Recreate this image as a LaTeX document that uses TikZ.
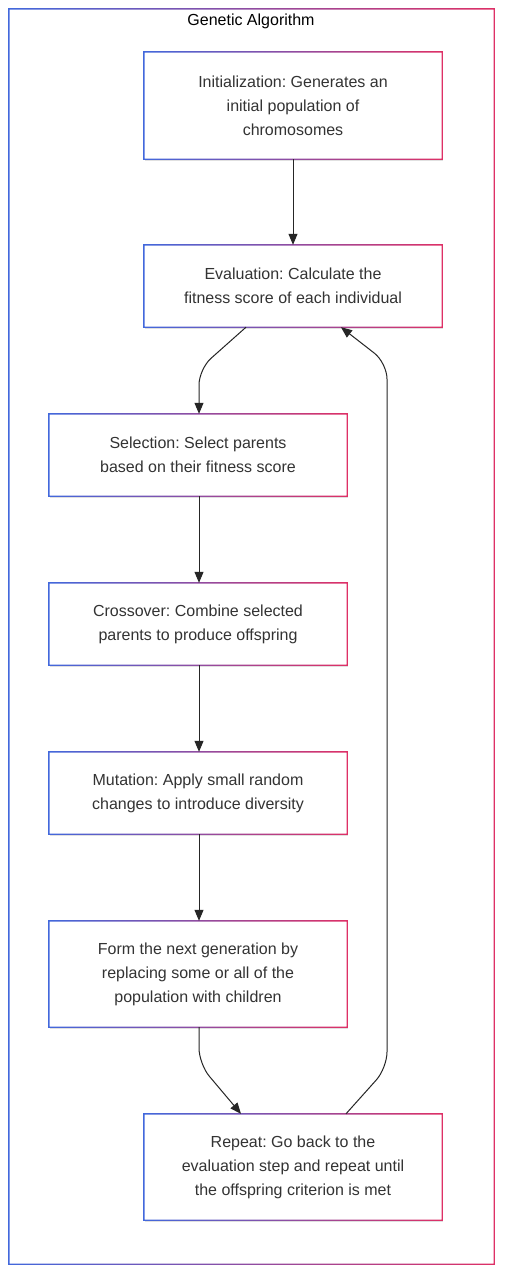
\documentclass[tikz,border=0pt]{standalone}
\usepackage{fontspec}
\setmainfont{Liberation Sans}
\frenchspacing
\usetikzlibrary{arrows.meta,shadows}
\definecolor{gblue}{RGB}{66,104,220}
\definecolor{gpink}{RGB}{222,48,102}
\definecolor{txt}{RGB}{51,51,51}
\tikzset{
  stepbox/.style={rectangle, fill=white, draw=none, minimum width=298pt, inner sep=0pt,
    align=center, text=txt, font=\fontsize{16pt}{24pt}\selectfont,
    drop shadow={shadow xshift=1pt, shadow yshift=-1.5pt, opacity=0.12, fill=black}},
  conn/.style={draw=black!85, line width=1pt, rounded corners=16pt},
  arr/.style={-{Triangle[length=11pt,width=9pt]}},
}
\newcommand{\gradborder}[1]{%
  \shade[left color=gblue, right color=gpink, even odd rule]
    ([shift={(-0.7pt,-0.7pt)}]#1.south west) rectangle ([shift={(0.7pt,0.7pt)}]#1.north east)
    ([shift={(0.7pt,0.7pt)}]#1.south west) rectangle ([shift={(-0.7pt,-0.7pt)}]#1.north east);}
\begin{document}
\begin{tikzpicture}[x=1pt,y=-1pt]
\useasboundingbox (0,0) rectangle (506,1280);
\fill[white] (0,0) rectangle (506,1280);
% outer frame
\node[inner sep=0pt, minimum width=485pt, minimum height=1255pt] (frame) at (251.5,636.5) {};
\gradborder{frame}
\node[font=\fontsize{16pt}{24pt}\selectfont, text=black] (title) at (251,21) {Genetic Algorithm};

\node[stepbox, minimum height=107pt] (n1) at (293,105.5) {Initialization: Generates an\\initial population of\\chromosomes};
\node[stepbox, minimum height=82pt] (n2) at (293,286) {Evaluation: Calculate the\\fitness score of each individual};
\node[stepbox, minimum height=82pt] (n3) at (198,455) {Selection: Select parents\\based on their fitness score};
\node[stepbox, minimum height=82pt] (n4) at (198,624) {Crossover: Combine selected\\parents to produce offspring};
\node[stepbox, minimum height=82pt] (n5) at (198,793) {Mutation: Apply small random\\changes to introduce diversity};
\node[stepbox, minimum height=106pt] (n6) at (198,974) {Form the next generation by\\replacing some or all of the\\population with children};
\node[stepbox, minimum height=106pt] (n7) at (293,1167) {Repeat: Go back to the\\evaluation step and repeat until\\the offspring criterion is met};
\foreach \n in {n1,n2,n3,n4,n5,n6,n7} {\gradborder{\n}}

\coordinate (c23) at (199,369);
\coordinate (c67) at (199,1064);
\coordinate (c72a) at (387,1068);
\coordinate (c72b) at (387,363);

\draw[conn, arr] (n1.south) -- (n2.north);
\draw[conn, arr] (n2.south -| 246,0) -- (c23) -- (n3.north -| 199,0);
\draw[conn, arr] (n3.south -| 199,0) -- (n4.north -| 199,0);
\draw[conn, arr] (n4.south -| 199,0) -- (n5.north -| 199,0);
\draw[conn, arr] (n5.south -| 199,0) -- (n6.north -| 199,0);
\draw[conn, arr] (n6.south -| 199,0) -- (c67) -- (n7.north -| 241,0);
\draw[conn, arr] (n7.north -| 346,0) -- (c72a) -- (c72b) -- (n2.south -| 341,0);
\end{tikzpicture}
\end{document}
